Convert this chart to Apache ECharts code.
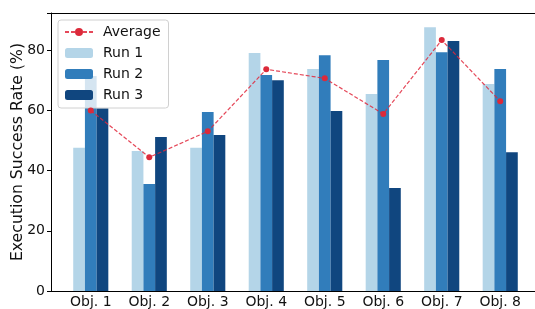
<!DOCTYPE html>
<html><head><meta charset="utf-8">
<script src="https://cdn.jsdelivr.net/npm/echarts@6/dist/echarts.min.js"></script>
<style>html,body{margin:0;padding:0;background:#fff}#c{width:535px;height:309px}</style>
</head><body><div id="c"></div>
<script>
const categories = ['Obj. 1','Obj. 2','Obj. 3','Obj. 4','Obj. 5','Obj. 6','Obj. 7','Obj. 8'];
const run1 = [47.6, 46.5, 47.6, 79.0, 73.7, 65.4, 87.6, 68.7];
const run2 = [71.4, 35.5, 59.4, 71.7, 78.3, 76.7, 79.3, 73.7];
const run3 = [60.7, 51.1, 51.8, 70.0, 59.8, 34.2, 83.0, 46.1];
const average = [59.9, 44.4, 53.0, 73.6, 70.6, 58.8, 83.3, 63.0];
const yTicks = [0, 20, 40, 60, 80];

const chart = echarts.init(document.getElementById('c'), null, {renderer:'canvas'});
const FONT = 'DejaVu Sans';
const xMin = -0.68, xMax = categories.length - 1 + 0.68;
const off = 0.2;
function xAxisBase(extra){
  return Object.assign({type:'value', min:xMin, max:xMax, show:false,
    axisLabel:{show:false}, axisTick:{show:false}, splitLine:{show:false}}, extra);
}
const option = {
  animation:false,
  grid:{left:51, top:13, right:-5, bottom:18, containLabel:false, outerBoundsMode:'none'},
  legend:{
    orient:'vertical', left:58, top:20,
    data:['Average','Run 1','Run 2','Run 3'],
    itemWidth:28, itemHeight:10, itemGap:7,
    padding:[5,8,6,6],
    borderColor:'#d0d0d0', borderWidth:1, borderRadius:3,
    backgroundColor:'rgba(255,255,255,0.8)',
    textStyle:{fontFamily:FONT, fontSize:14, color:'#111', padding:[0,0,0,5]}
  },
  xAxis:[
    xAxisBase({show:true, position:'bottom',
      axisLine:{show:true, onZero:false, lineStyle:{color:'#000', width:1}},
      axisTick:{show:false},
      axisLabel:{show:true, customValues:categories.map((c,i)=>i),
        formatter:(v)=>categories[Math.round(v)] || '', fontFamily:FONT, fontSize:14, color:'#111', margin:4}}),
    xAxisBase({show:true, position:'top',
      axisLine:{show:true, onZero:false, lineStyle:{color:'#000', width:1}}}),
    xAxisBase({position:'bottom'}),
    xAxisBase({position:'bottom'})
  ],
  yAxis:{
    type:'value', min:0, max:92.3, interval:20,
    axisLine:{show:true, onZero:false, lineStyle:{color:'#000', width:1}},
    axisTick:{show:true, length:4, lineStyle:{color:'#000'}},
    splitLine:{show:false},
    axisLabel:{fontFamily:FONT, fontSize:14, color:'#111', margin:6,
      customValues:yTicks},
    name:'Execution Success Rate (%)', nameLocation:'middle', nameGap:25,
    nameMoveOverlap:false,
    nameTextStyle:{fontFamily:FONT, fontSize:15.7, color:'#111'}
  },
  series:[
    {name:'Run 1', type:'bar', xAxisIndex:2, barWidth:11.7,
     itemStyle:{color:'#b4d5e8'}, data:run1.map((v,i)=>[i-off, v])},
    {name:'Run 2', type:'bar', xAxisIndex:0, barWidth:11.7,
     itemStyle:{color:'#317dbb'}, data:run2.map((v,i)=>[i, v])},
    {name:'Run 3', type:'bar', xAxisIndex:3, barWidth:11.7,
     itemStyle:{color:'#10467f'}, data:run3.map((v,i)=>[i+off, v])},
    {name:'Average', type:'line', xAxisIndex:1, z:5,
     symbol:'circle', symbolSize:6,
     lineStyle:{color:'#e0283c', width:1.2, type:[4,2], opacity:0.85},
     itemStyle:{color:'#dc2a3a'},
     data:average.map((v,i)=>[i, v])}
  ]
};
chart.setOption(option);
</script></body></html>
